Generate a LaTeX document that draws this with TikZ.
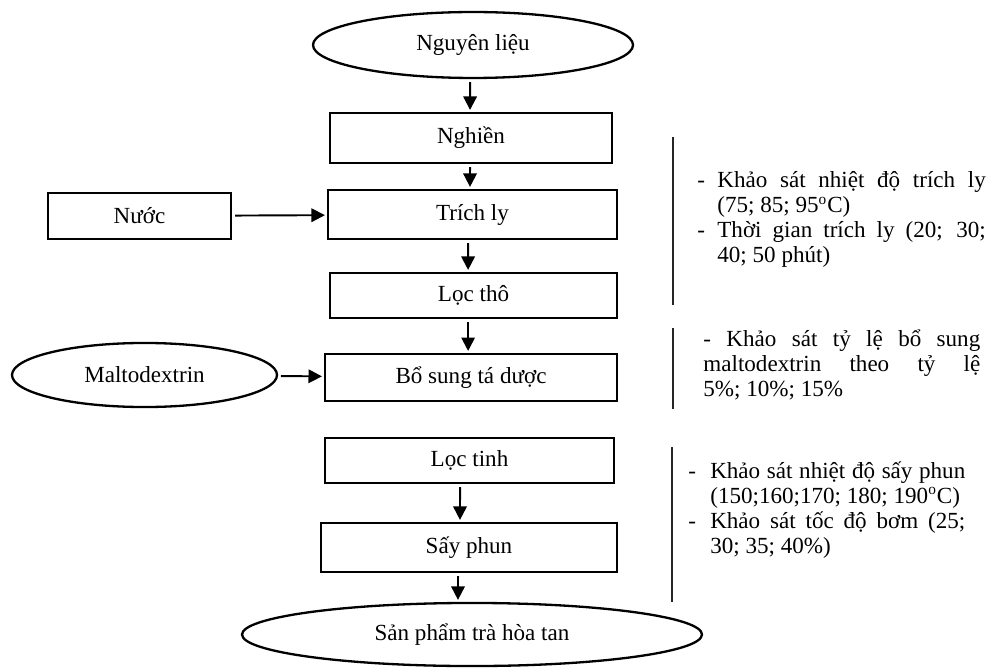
\documentclass[tikz,border=0pt]{standalone}
\usepackage{fontspec}
\setmainfont{Liberation Serif}
\usepackage{tikz}
\usetikzlibrary{shapes.geometric, arrows.meta}

\begin{document}
\begin{tikzpicture}[x=0.52pt, y=-0.52pt, every node/.style={font=\fontsize{12pt}{13pt}\selectfont}]
    % Styles
    \tikzstyle{stepbox} = [rectangle, draw=black, line width=1.2pt, inner sep=0pt, align=center]
    \tikzstyle{endpoint} = [ellipse, draw=black, line width=1.2pt, inner sep=0pt, align=center]
    \tikzstyle{arrow} = [-{Triangle[length=7pt, width=7pt]}, line width=1pt, shorten <=1.5pt, shorten >=1pt]
    \tikzstyle{note} = [anchor=base west, inner sep=0pt, align=justify]
    \tikzstyle{bar} = [line width=0.6pt, black!85]

    \useasboundingbox (0,0) rectangle (988,669);

    % Nodes
    \node[endpoint, minimum width=166.4pt, minimum height=34.3pt] (nguyen) at (473,45) {Nguyên liệu};
    \node[stepbox, minimum width=146.6pt, minimum height=26pt] (nghien) at (471,138) {Nghiền};
    \node[stepbox, minimum width=150.3pt, minimum height=25.5pt] (trichly) at (472.5,214.5) {Trích ly};
    \node[stepbox, minimum width=149.2pt, minimum height=23.4pt] (locTho) at (473.5,295.5) {Lọc thô};
    \node[stepbox, minimum width=151.8pt, minimum height=24.4pt] (boSung) at (471,377.5) {Bổ sung tá dược};
    \node[stepbox, minimum width=150.3pt, minimum height=23.4pt] (locTinh) at (469.5,460.5) {Lọc tinh};
    \node[stepbox, minimum width=153.9pt, minimum height=25.5pt] (sayPhun) at (469,547.5) {Sấy phun};
    \node[endpoint, minimum width=239.2pt, minimum height=32.8pt] (sanPham) at (472,634.5) {Sản phẩm trà hòa tan};
    \node[stepbox, minimum width=95.2pt, minimum height=23.9pt] (nuoc) at (139.5,216) {Nước};
    \node[endpoint, minimum width=137.8pt, minimum height=33.3pt] (malto) at (144.5,375) {Maltodextrin};

    % Arrows
    \draw[arrow] ([xshift=-1.5pt]nguyen.south) -- ([xshift=-0.5pt]nghien.north);
    \draw[arrow] ([xshift=-0.5pt]nghien.south) -- ([xshift=-1.3pt]trichly.north);
    \draw[arrow] ([xshift=-2.3pt]trichly.south) -- ([xshift=-2.8pt]locTho.north);
    \draw[arrow] ([xshift=-2.8pt]locTho.south) -- ([xshift=-1.5pt]boSung.north);
    \draw[arrow] ([xshift=-4.9pt]locTinh.south) -- ([xshift=-4.7pt]sayPhun.north);
    \draw[arrow] ([xshift=-5.7pt]sayPhun.south) -- ([xshift=-7.3pt]sanPham.north);
    \draw[arrow] (nuoc) -- (trichly);
    \draw[arrow] (malto) -- (boSung);

    % Notes
    \draw[bar] (673,137) -- (673,305);
    \draw[bar] (673,328) -- (673,409);
    \draw[bar] (672,447) -- (672,602);
    \node[note, text width=150pt] (note1) at (697,188) {\tolerance=10000
        \leavevmode\makebox[10.4pt][l]{-}\hangindent=10.4pt\hangafter=1 Khảo sát nhiệt độ trích ly\linebreak (75; 85; 95\textsuperscript{o}C)\par
        \leavevmode\makebox[10.4pt][l]{-}\hangindent=10.4pt\hangafter=1 Thời gian trích ly (20; 30;\linebreak 40; 50 phút)\par};
    \node[note, text width=144pt] (note2) at (703,346) {\tolerance=10000
        - Khảo sát tỷ lệ bổ sung\linebreak maltodextrin theo tỷ lệ\linebreak 5\%; 10\%; 15\%};
    \node[note, text width=144pt] (note3) at (688,478) {\tolerance=10000
        \leavevmode\makebox[11.4pt][l]{-}\hangindent=11.4pt\hangafter=1 Khảo sát nhiệt độ sấy phun\linebreak (150;160;170; 180; 190\textsuperscript{o}C)\par
        \leavevmode\makebox[11.4pt][l]{-}\hangindent=11.4pt\hangafter=1 Khảo sát tốc độ bơm (25;\linebreak 30; 35; 40\%)\par};
\end{tikzpicture}
\end{document}
